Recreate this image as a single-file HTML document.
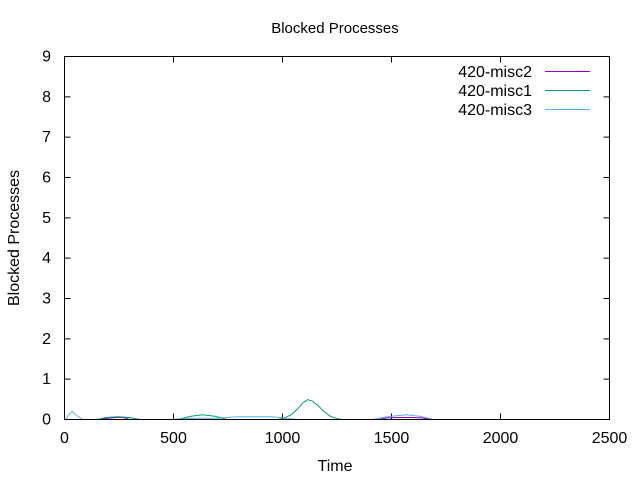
<!DOCTYPE html>
<html><head><meta charset="utf-8"><style>
body{margin:0;background:#fff}
svg{display:block;font-family:"Liberation Sans",sans-serif}
</style></head><body>
<svg id="chart" width="640" height="480">
<rect width="640" height="480" fill="#fff"/>
<text x="335" y="33" font-size="15" text-anchor="middle">Blocked Processes</text>
<text x="335" y="471" font-size="16" text-anchor="middle">Time</text>
<text transform="translate(19,238) rotate(-90)" font-size="16" text-anchor="middle">Blocked Processes</text>
<g id="ticks"></g>
<g id="series"></g>
<rect x="64.5" y="56.5" width="545" height="363" fill="none" stroke="#000"/>
<g font-size="16">
<text x="532" y="77" text-anchor="end">420-misc2</text>
<line x1="545" y1="71.5" x2="590" y2="71.5" stroke="#9400d3"/>
<text x="532" y="96" text-anchor="end">420-misc1</text>
<line x1="545" y1="90.5" x2="590" y2="90.5" stroke="#009e73"/>
<text x="532" y="115" text-anchor="end">420-misc3</text>
<line x1="545" y1="109.5" x2="590" y2="109.5" stroke="#56b4e9"/>
</g>
</svg>
<script>
const xTicks=[0,500,1000,1500,2000,2500];
const yTicks=[0,1,2,3,4,5,6,7,8,9];
const misc2T=[150,200,240,270,300,1440,1480,1530,1600,1640,1680];
const misc2V=[0,0.03,0.05,0.05,0,0,0.04,0.05,0.05,0.04,0];
const misc1T=[150,190,243,300,345,520,580,633,690,745,980,1010,1040,1070,1095,1115,1135,1160,1190,1220,1250,1275,1300];
const misc1V=[0,0.05,0.07,0.05,0,0,0.08,0.12,0.08,0,0,0.04,0.12,0.27,0.42,0.49,0.46,0.36,0.2,0.08,0.02,0,0];
const misc3T=[5,20,35,55,85,480,540,620,700,794,955,1010,1070,1410,1480,1568,1630,1690];
const misc3V=[0,0.12,0.2,0.1,0,0,0.02,0.03,0.03,0.07,0.07,0.03,0,0,0.07,0.12,0.08,0];
const X0=64.5,X1=609.5,Y0=419.5,Y1=56.5;
const xs=t=>X0+(t/2500)*(X1-X0);
const ys=v=>Y0-(v/9)*(Y0-Y1);
const NS='http://www.w3.org/2000/svg';
const tg=document.getElementById('ticks');
xTicks.forEach(t=>{
 const x=xs(t);
 const l=document.createElementNS(NS,'path');
 l.setAttribute('d',`M${x},${Y0}v-6M${x},${Y1}v6`);l.setAttribute('stroke','#000');
 
 
 tg.appendChild(l);
 const tx=document.createElementNS(NS,'text');
 tx.setAttribute('x',x);tx.setAttribute('y',443);tx.setAttribute('font-size','16');tx.setAttribute('text-anchor','middle');
 tx.textContent=t;
 
 
 tg.appendChild(tx);
});
yTicks.forEach(v=>{
 const y=ys(v);
 const l=document.createElementNS(NS,'path');
 l.setAttribute('d',`M${X0},${y}h6M${X1},${y}h-6`);l.setAttribute('stroke','#000');
 
 
 tg.appendChild(l);
 const tx=document.createElementNS(NS,'text');
 tx.setAttribute('x',51);tx.setAttribute('y',y+5);tx.setAttribute('font-size','16');tx.setAttribute('text-anchor','end');
 tx.textContent=v;
 
 
 tg.appendChild(tx);
});
const sg=document.getElementById('series');
function draw(T,V,color,name){
 const p=document.createElementNS(NS,'path');
 p.setAttribute('d',T.map((t,i)=>(i?'L':'M')+xs(t).toFixed(1)+','+ys(V[i]).toFixed(1)).join(''));
 p.setAttribute('fill','none');p.setAttribute('stroke',color);p.setAttribute('stroke-width','1');
 
 
 sg.appendChild(p);
}
draw(misc3T,misc3V,'#56b4e9','series-misc3');
draw(misc2T,misc2V,'#9400d3','series-misc2');
draw(misc1T,misc1V,'#009e73','series-misc1');
</script>
</body></html>
